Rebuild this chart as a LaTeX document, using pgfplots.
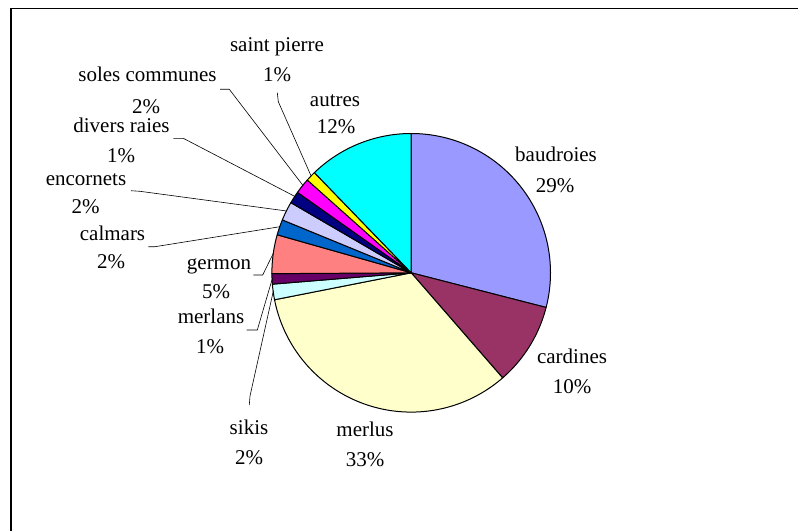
\documentclass[border=0pt]{standalone}
\usepackage{pgfplots}
\usepackage{pgfplotstable}
\pgfplotsset{compat=1.18}
\usepackage{fontspec}
\setmainfont{Liberation Serif}

\definecolor{slice0}{HTML}{9999FF}
\definecolor{slice1}{HTML}{993366}
\definecolor{slice2}{HTML}{FFFFCC}
\definecolor{slice3}{HTML}{CCFFFF}
\definecolor{slice4}{HTML}{660066}
\definecolor{slice5}{HTML}{FF8080}
\definecolor{slice6}{HTML}{0066CC}
\definecolor{slice7}{HTML}{CCCCFF}
\definecolor{slice8}{HTML}{000080}
\definecolor{slice9}{HTML}{FF00FF}
\definecolor{slice10}{HTML}{FFFF00}
\definecolor{slice11}{HTML}{00FFFF}

% share of each species (percent), clockwise from 12 o'clock
\pgfplotstableread{
name value
baudroies 29.0
cardines 9.6
merlus 33.3
sikis 1.8
merlans 1.2
germon 4.5
calmars 1.8
encornets 2.2
diversraies 1.4
solescommunes 1.8
saintpierre 1.17
autres 12.23
}\piedata

\newcommand\lab{\fontsize{21bp}{25bp}\selectfont}
\def\cx{411.2}
\def\cy{272.8}
\def\rr{139.3}

\begin{document}
\begin{tikzpicture}
\useasboundingbox (0,0) rectangle (798bp,531bp);
\begin{axis}[at={(0,0)}, anchor=south west,
  width=798bp, height=531bp, scale only axis,
  xmin=0, xmax=798, ymin=0, ymax=531, y dir=reverse,
  hide axis, clip=false]

\def\angstart{90}
\pgfplotsforeachungrouped \i in {0,...,11}{%
  \pgfplotstablegetelem{\i}{value}\of\piedata
  \pgfmathsetmacro\angend{\angstart-3.6*\pgfplotsretval}%
  \edef\doplot{\noexpand\addplot[draw=black, line width=1bp, line join=round,
     fill=slice\i, domain=\angend:\angstart, samples=80]
     ({\cx+\rr*cos(x)},{\cy-\rr*sin(x)}) -- (axis cs:\cx,\cy) -- cycle;}%
  \doplot
  \global\let\angstart\angend
}

% leader lines
\addplot[black, line width=0.6bp] coordinates {(277.3,92.7) (278.3,101.7) (311.2,176.2)};
\addplot[black, line width=0.6bp] coordinates {(220,89.3) (229.3,89.3) (303,185.5)};
\addplot[black, line width=0.6bp] coordinates {(173.3,138.3) (183.3,138.3) (295,196.5)};
\addplot[black, line width=0.6bp] coordinates {(131,190.7) (140,191.3) (286.7,211)};
\addplot[black, line width=0.6bp] coordinates {(148.3,246.7) (155,246.7) (280,226.7)};
\addplot[black, line width=0.6bp] coordinates {(253.3,275) (262.7,275) (273.3,253.3)};
\addplot[black, line width=0.6bp] coordinates {(246.7,330) (257.3,330) (272.5,278)};
\addplot[black, line width=0.6bp] coordinates {(249.3,405) (250,396) (273.4,290.7)};

% frame
\draw[line width=1.6bp] (axis cs:800,8.5) -- (axis cs:11,8.5) -- (axis cs:11,533);

% labels
\node[anchor=base, font=\lab] at (axis cs:556,161) {baudroies};
\node[anchor=base, font=\lab] at (axis cs:555,192) {29\%};
\node[anchor=base, font=\lab] at (axis cs:572,363) {cardines};
\node[anchor=base, font=\lab] at (axis cs:572,393) {10\%};
\node[anchor=base, font=\lab] at (axis cs:365,436) {merlus};
\node[anchor=base, font=\lab] at (axis cs:365,466) {33\%};
\node[anchor=base, font=\lab] at (axis cs:249,434) {sikis};
\node[anchor=base, font=\lab] at (axis cs:249,464) {2\%};
\node[anchor=base, font=\lab] at (axis cs:211,323) {merlans};
\node[anchor=base, font=\lab] at (axis cs:210,353) {1\%};
\node[anchor=base, font=\lab] at (axis cs:219,269) {germon};
\node[anchor=base, font=\lab] at (axis cs:216,298) {5\%};
\node[anchor=base, font=\lab] at (axis cs:112.5,240) {calmars};
\node[anchor=base, font=\lab] at (axis cs:111,268) {2\%};
\node[anchor=base, font=\lab] at (axis cs:86,185) {encornets};
\node[anchor=base, font=\lab] at (axis cs:85.5,213) {2\%};
\node[anchor=base, font=\lab] at (axis cs:121.5,132) {divers raies};
\node[anchor=base, font=\lab] at (axis cs:121,162) {1\%};
\node[anchor=base, font=\lab] at (axis cs:147.5,82) {soles communes};
\node[anchor=base, font=\lab] at (axis cs:146,113) {2\%};
\node[anchor=base, font=\lab] at (axis cs:277,52) {saint pierre};
\node[anchor=base, font=\lab] at (axis cs:277,82) {1\%};
\node[anchor=base, font=\lab] at (axis cs:335,106) {autres};
\node[anchor=base, font=\lab] at (axis cs:336,133) {12\%};
\end{axis}
\end{tikzpicture}
\end{document}
